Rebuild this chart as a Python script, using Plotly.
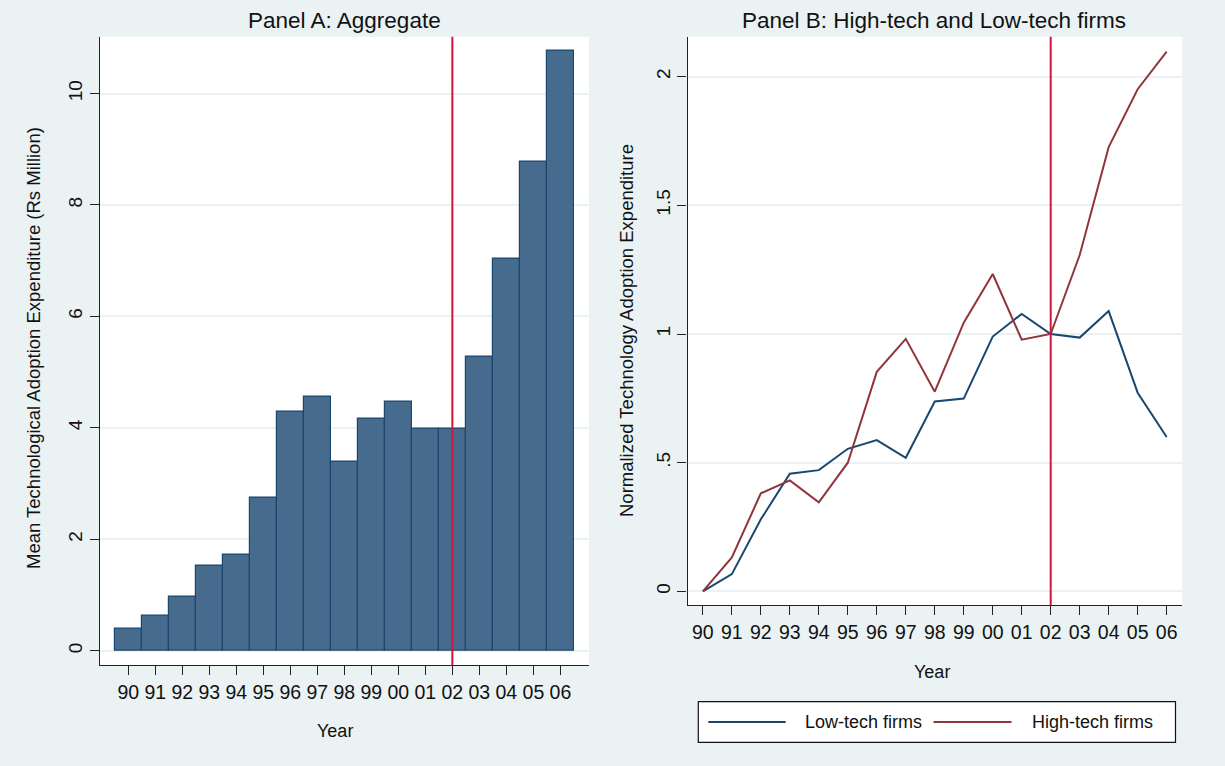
import plotly.graph_objects as go

# Years on the horizontal axis and their two-digit tick labels
years = list(range(1990, 2007))
year_labels = ["90", "91", "92", "93", "94", "95", "96", "97", "98", "99",
               "00", "01", "02", "03", "04", "05", "06"]

# Panel A: mean technology adoption expenditure (Rs million)
mean_expenditure = [0.40, 0.63, 0.97, 1.53, 1.73, 2.75, 4.29, 4.56, 3.40,
                    4.17, 4.47, 3.98, 3.98, 5.28, 7.04, 8.78, 10.76]

# Panel B: expenditure normalized to 2002 = 1
low_tech = [0.0, 0.067, 0.28, 0.457, 0.471, 0.554, 0.588, 0.519, 0.738,
            0.749, 0.99, 1.078, 1.0, 0.986, 1.089, 0.772, 0.60]
high_tech = [0.0, 0.132, 0.381, 0.431, 0.346, 0.50, 0.853, 0.981, 0.776,
             1.044, 1.233, 0.978, 1.0, 1.307, 1.726, 1.951, 2.097]

policy_year = 2002

W, H = 1225, 766
BG = "#EAF2F3"
NAVY = "#1A476F"
BAR_FILL = "#476B8D"
MAROON = "#90353B"
VLINE = "#D3143C"
FONT = "Liberation Sans, Arial, sans-serif"


def px(x):
    return x / W


def py(y):
    return 1 - y / H


fig = go.Figure()

fig.add_trace(go.Bar(
    x=years, y=mean_expenditure, width=1.0,
    marker=dict(color=BAR_FILL, line=dict(color=NAVY, width=1.2)),
    xaxis="x", yaxis="y", showlegend=False, name="Mean expenditure",
))
fig.add_trace(go.Scatter(
    x=years, y=low_tech, mode="lines", line=dict(color=NAVY, width=2),
    xaxis="x2", yaxis="y2", showlegend=False, name="Low-tech firms",
))
fig.add_trace(go.Scatter(
    x=years, y=high_tech, mode="lines", line=dict(color=MAROON, width=2),
    xaxis="x2", yaxis="y2", showlegend=False, name="High-tech firms",
))

common_x = dict(
    tickmode="array", tickvals=years, ticktext=year_labels,
    ticks="outside", ticklen=9, tickwidth=1.2, tickcolor="#222",
    showline=True, linecolor="#222", linewidth=1.3,
    showgrid=False, zeroline=False, ticklabelstandoff=0,
    tickfont=dict(family=FONT, size=19.5, color="#111"),
)
common_y = dict(
    ticks="outside", ticklen=9, tickwidth=1.2, tickcolor="#222",
    showline=True, linecolor="#222", linewidth=1.3,
    showgrid=True, gridcolor=BG, gridwidth=2, zeroline=False,
    tickangle=-90, ticklabelstandoff=0,
    tickfont=dict(family=FONT, size=19, color="#111"),
)

fig.update_layout(
    width=W, height=H,
    margin=dict(l=0, r=0, t=0, b=0),
    paper_bgcolor=BG, plot_bgcolor="white",
    font=dict(family=FONT, color="#111"),
    bargap=0,
    xaxis=dict(common_x, domain=[px(100), px(589)], range=[1988.95, 2007.06],
               anchor="y"),
    yaxis=dict(common_y, domain=[py(665), py(36.7)], range=[-0.257, 11.02],
               tickvals=[0, 2, 4, 6, 8, 10], ticktext=["0", "2", "4", "6", "8", "10"],
               anchor="x"),
    xaxis2=dict(common_x, domain=[px(687.5), px(1182.3)], range=[1989.47, 2006.54],
                anchor="y2"),
    yaxis2=dict(common_y, domain=[py(605.3), py(36.7)], range=[-0.054, 2.155],
                tickvals=[0, 0.5, 1, 1.5, 2], ticktext=["0", ".5", "1", "1.5", "2"],
                anchor="x2"),
)

# Vertical reference line at 2002 in both panels
for xr, yr in (("x", "y domain"), ("x2", "y2 domain")):
    fig.add_shape(type="line", xref=xr, yref=yr, x0=policy_year, x1=policy_year,
                  y0=0, y1=1, line=dict(color=VLINE, width=2), layer="above")

# Titles and axis titles
texts = [
    ("Panel A: Aggregate", 344.5, 21, 22.5, 0),
    ("Panel B: High-tech and Low-tech firms", 934.0, 21, 22.5, 0),
    ("Year", 335, 731, 18, 0),
    ("Year", 932, 672, 18, 0),
    ("Mean Technological Adoption Expenditure (Rs Million)", 33, 348, 18.5, -90),
    ("Normalized Technology Adoption Expenditure", 626, 331, 18.5, -90),
]
for t, x, y, s, ang in texts:
    fig.add_annotation(text=t, xref="paper", yref="paper", x=px(x), y=py(y),
                       xanchor="center", yanchor="middle", showarrow=False,
                       textangle=ang, font=dict(family=FONT, size=s, color="#111"))

# Legend box for panel B
fig.add_shape(type="rect", xref="paper", yref="paper",
              x0=px(698.3), x1=px(1175.5), y0=py(742.3), y1=py(701.7),
              line=dict(color="#111", width=1.2), fillcolor="white")
legend_items = [("Low-tech firms", NAVY, 708.3, 785.7, 803),
                ("High-tech firms", MAROON, 933.5, 1011.5, 1029.5)]
for name, col, lx0, lx1, tx in legend_items:
    fig.add_shape(type="line", xref="paper", yref="paper",
                  x0=px(lx0), x1=px(lx1), y0=py(722), y1=py(722),
                  line=dict(color=col, width=2))
    fig.add_annotation(text=name, xref="paper", yref="paper", x=px(tx), y=py(722),
                       xanchor="left", yanchor="middle", showarrow=False,
                       font=dict(family=FONT, size=18, color="#111"))

fig.write_html("out.html")
